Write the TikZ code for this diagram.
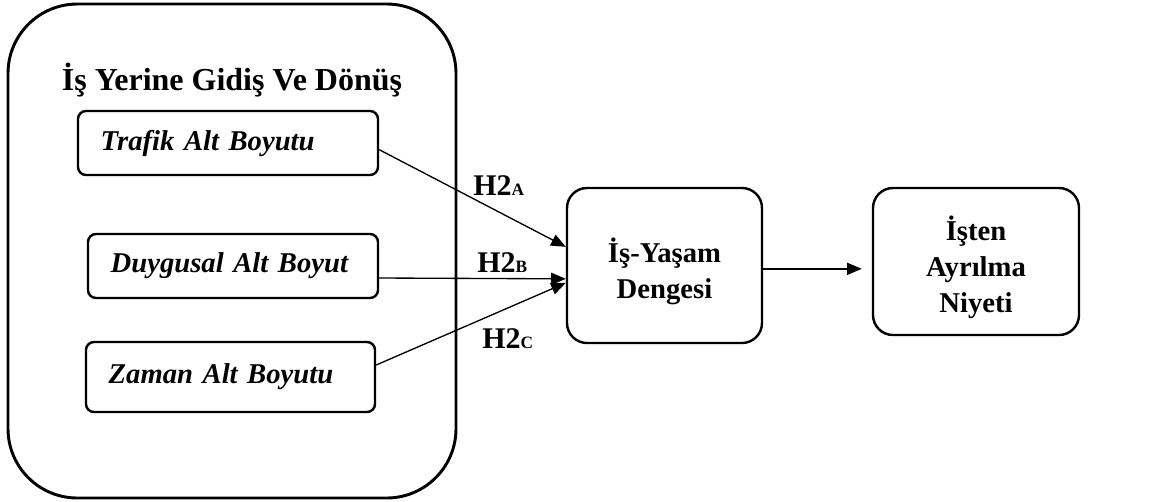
\documentclass[tikz,border=0pt]{standalone}
\usepackage{fontspec}
\setmainfont{Liberation Serif}
\usetikzlibrary{positioning,arrows.meta}

\newcommand{\hyplabel}[1]{H2{\fontsize{13}{13}\selectfont #1}}
\newcommand{\topstrut}{\rule{0pt}{27pt}}

\begin{document}
\begin{tikzpicture}[x=0.75pt,y=-0.75pt,
            frame/.style={draw, line width=2.2pt, rounded corners=52pt,
                minimum width=336pt, minimum height=370.5pt},
            dim/.style={draw, line width=1.8pt, rounded corners=6pt,
                align=left, inner xsep=17pt,
                font=\fontsize{21.5}{26}\selectfont\bfseries\itshape},
            var/.style={draw, line width=1.8pt, rounded corners=15pt,
                align=center, inner sep=0pt,
                font=\fontsize{21.5}{27}\selectfont\bfseries},
            hyp/.style={anchor=base west, inner sep=0pt,
                font=\fontsize{22.5}{27}\selectfont\bfseries},
            link/.style={line width=1pt, -{Triangle[length=11pt,width=9pt]}}]
            \useasboundingbox (0,0) rectangle (1176,501);
            % left group
            \node (commute) [frame] at (232,251) {};
            \node (title) [anchor=base, inner sep=0pt,
                font=\fontsize{24}{28}\selectfont\bfseries] at (232,90)
                {İş Yerine Gidiş Ve Dönüş};
            \node (traffic) [dim, text width=191pt, minimum height=48pt] at (228,143)
                {Trafik Alt Boyutu};
            \node (emotion) [dim, text width=183.5pt, minimum height=48pt] at (233,266)
                {Duygusal Alt Boyut};
            \node (time) [dim, text width=182.75pt, minimum height=52.5pt] at (230.5,377)
                {Zaman Alt Boyutu};
            % right side
            \node (balance) [var, minimum width=146.25pt, minimum height=116.25pt]
                at (664.5,265.5) {\topstrut İş-Yaşam\\Dengesi};
            \node (quit) [var, minimum width=154.5pt, minimum height=110.25pt]
                at (976,261.5) {\topstrut İşten\\Ayrılma\\Niyeti};
            % arrows
            \draw[link] ([yshift=-5pt]traffic.east) -- ([yshift=14pt]balance.west);
            \draw[link] ([yshift=-9pt]emotion.east) -- ([yshift=-10pt]balance.west);
            \draw[link] ([yshift=9pt]time.east) -- ([yshift=-13pt]balance.west);
            \draw[link, shorten >=7.5pt] ([yshift=-2.5pt]balance.east) -- ([yshift=-5.5pt]quit.west);
            % labels
            \node (hA) [hyp] at (473,195) {\hyplabel{A}};
            \node (hB) [hyp] at (477,272) {\hyplabel{B}};
            \node (hC) [hyp] at (482,348) {\hyplabel{C}};
\end{tikzpicture}
\end{document}
